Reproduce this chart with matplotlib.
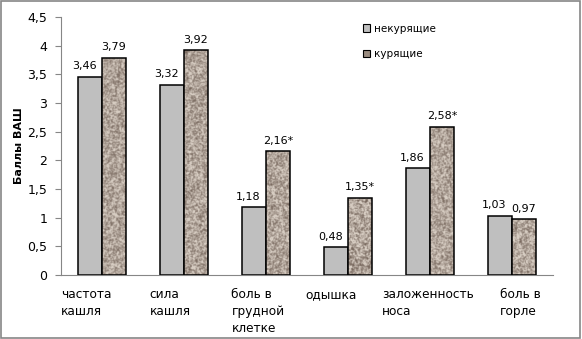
import numpy as np
import matplotlib
matplotlib.use("Agg")
import matplotlib.pyplot as plt
from matplotlib.patches import Patch, Rectangle
from matplotlib.transforms import ScaledTranslation

categories = ["частота\nкашля", "сила\nкашля", "боль в\nгрудной\nклетке",
              "одышка", "заложенность\nноса", "боль в\nгорле"]
nonsmokers = [3.46, 3.32, 1.18, 0.48, 1.86, 1.03]
smokers = [3.79, 3.92, 2.16, 1.35, 2.58, 0.97]
nonsmoker_labels = ["3,46", "3,32", "1,18", "0,48", "1,86", "1,03"]
smoker_labels = ["3,79", "3,92", "2,16*", "1,35*", "2,58*", "0,97"]
yticks = [0, 0.5, 1, 1.5, 2, 2.5, 3, 3.5, 4, 4.5]
ytick_labels = ["0", "0,5", "1", "1,5", "2", "2,5", "3", "3,5", "4", "4,5"]
# horizontal shift of category labels (pixels), as in the original layout
label_shift = [-16, -14, -8, -17, -2, 8]

plt.rcParams['font.family'] = ['DejaVu Sans']

fig = plt.figure(figsize=(5.82, 3.39), dpi=100)
fig.patches.append(Rectangle((0.002, 0.003), 0.995, 0.993, transform=fig.transFigure,
                             fill=False, edgecolor="#868686", linewidth=1.2))
ax = fig.add_axes([0.105, 0.189, 0.845, 0.761])

x = np.arange(len(categories))
w = 0.29
b1 = ax.bar(x - w / 2, nonsmokers, w, color="#bfbfbf", edgecolor="black", linewidth=1.1, zorder=2)
b2 = ax.bar(x + w / 2, smokers, w, color="#a89c90", edgecolor="black", linewidth=1.1, zorder=2)

ax.set_xlim(-0.5, len(categories) - 0.5)
ax.set_ylim(0, 4.5)

# granite-like texture for the smokers' bars
rng = np.random.default_rng(3)
k = np.array([0.2, 0.6, 0.2])
light = np.array([0.84, 0.80, 0.76])
dark = np.array([0.48, 0.42, 0.38])
for bar in b2:
    x0, y0 = bar.get_x(), bar.get_y()
    h_px = bar.get_height() / 4.5 * 258
    ny, nx = max(int(h_px), 4), 24
    noise = rng.random((ny, nx))
    noise = np.apply_along_axis(lambda r: np.convolve(r, k, mode="same"), 1, noise)
    noise = np.apply_along_axis(lambda c: np.convolve(c, k, mode="same"), 0, noise)
    noise = (noise - noise.min()) / (noise.max() - noise.min())
    noise = np.clip(noise * 1.2 - 0.05, 0, 1)
    tex = light[None, None, :] * noise[..., None] + dark[None, None, :] * (1 - noise[..., None])
    im = ax.imshow(tex, extent=(x0, x0 + bar.get_width(), y0, y0 + bar.get_height()),
                   aspect="auto", interpolation="nearest", zorder=2.5)
    im.set_clip_path(bar)
    bar.set_facecolor("none")
    bar.set_zorder(3)

for bar, lab in zip(b1, nonsmoker_labels):
    ax.annotate(lab, (bar.get_x() + bar.get_width() / 2, bar.get_height()),
                xytext=(-4, 4), textcoords="offset points", ha="center", va="bottom", fontsize=8)
for bar, lab in zip(b2, smoker_labels):
    ax.annotate(lab, (bar.get_x() + bar.get_width() / 2, bar.get_height()),
                xytext=(0, 4), textcoords="offset points", ha="center", va="bottom", fontsize=8)

ax.set_yticks(yticks)
ax.set_yticklabels(ytick_labels, fontsize=9)
ax.set_xticks(x)
ax.set_xticklabels([])
ax.tick_params(axis="x", length=0)
for xi, lab, dx in zip(x, categories, label_shift):
    tr = ax.get_xaxis_transform() + ScaledTranslation(dx / 100, -0.13, fig.dpi_scale_trans)
    ax.text(xi, 0, lab, transform=tr, ha="center", va="top", multialignment="left",
            fontsize=8.7, linespacing=1.4)
ax.tick_params(axis="y", length=4, color="#868686", pad=6)
for s in ["top", "right"]:
    ax.spines[s].set_visible(False)
for s in ["left", "bottom"]:
    ax.spines[s].set_color("#868686")
ax.set_ylabel("Баллы ВАШ", fontsize=8, fontweight="bold", labelpad=2)

handles = [Patch(facecolor="#bfbfbf", edgecolor="black", linewidth=0.8),
           Patch(facecolor="#9a8c80", edgecolor="black", linewidth=0.8)]
ax.legend(handles, ["некурящие", "курящие"], loc="upper left", bbox_to_anchor=(0.595, 1.01),
          frameon=False, fontsize=7.5, handlelength=0.7, handleheight=0.7,
          handletextpad=0.3, labelspacing=1.5)

fig.savefig("out.png", dpi=100)
